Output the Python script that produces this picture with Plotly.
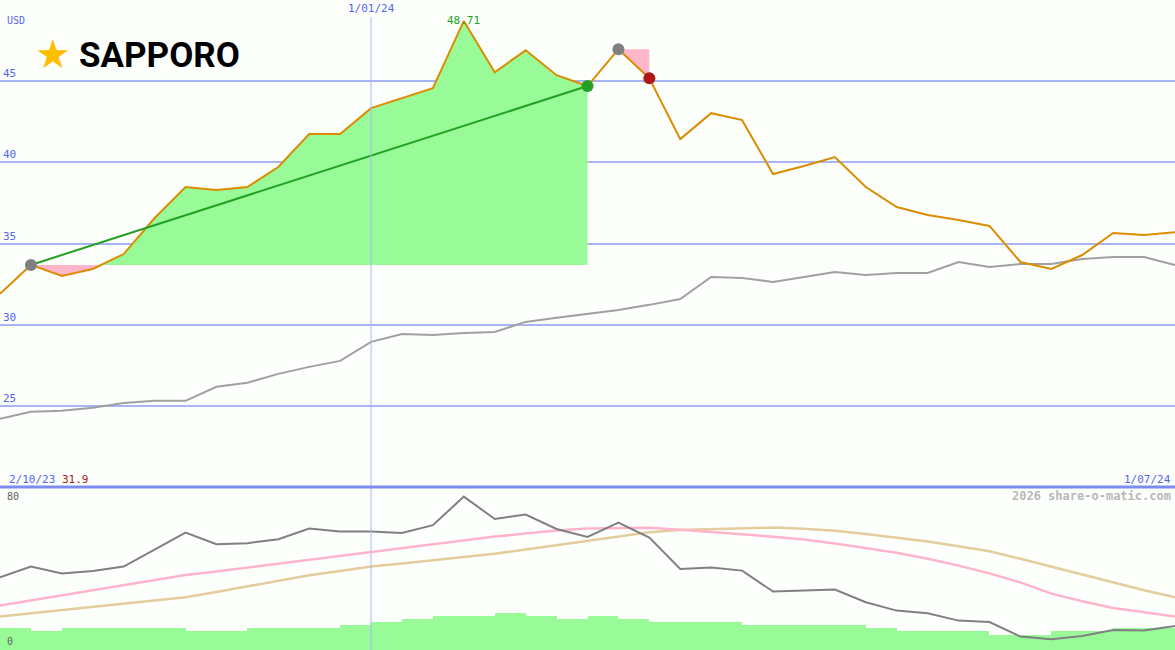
import plotly.graph_objects as go

W, H = 1175, 650

# ---------------- data ----------------
idx = list(range(39))
price = [31.9, 33.68, 33.0, 33.43, 34.35, 36.57, 38.48, 38.29, 38.48, 39.71,
         41.74, 41.74, 43.34, 43.95, 44.57, 48.71, 45.55, 46.9, 45.37, 44.7,
         46.97, 45.18, 41.43, 43.03, 42.6, 39.28, 39.77, 40.32, 38.48, 37.25,
         36.75, 36.45, 36.08, 33.86, 33.43, 34.29, 35.65, 35.52, 35.7]
bench = [24.2, 24.63, 24.69, 24.88, 25.18, 25.31, 25.31, 26.17, 26.42, 26.97,
         27.4, 27.77, 28.94, 29.43, 29.37, 29.49, 29.55, 30.17, 30.42, 30.66,
         30.91, 31.22, 31.58, 32.94, 32.88, 32.63, 32.94, 33.25, 33.06, 33.18,
         33.18, 33.86, 33.55, 33.74, 33.74, 34.05, 34.17, 34.17, 33.68]
osc = [36.4, 41.7, 38.2, 39.5, 41.7, 50.2, 58.7, 52.9, 53.4, 55.4,
       60.7, 59.2, 59.2, 58.5, 62.4, 76.7, 65.5, 67.7, 60.5, 56.5,
       63.7, 56.2, 40.5, 41.2, 39.7, 29.2, 29.7, 30.2, 23.9, 19.7,
       18.4, 14.7, 14.0, 6.7, 5.4, 7.0, 10.0, 9.7, 12.0]
ma_fast = [22.2, 24.7, 27.3, 29.8, 32.4, 35.0, 37.5, 39.3, 41.2, 43.1,
           45.0, 46.9, 48.8, 50.8, 52.7, 54.7, 56.7, 58.2, 59.8, 60.8,
           61.0, 61.1, 60.1, 59.1, 57.9, 56.6, 55.3, 53.2, 51.0, 48.6,
           45.6, 42.2, 38.3, 33.8, 28.2, 24.4, 21.0, 18.7, 16.7]
ma_slow = [16.7, 18.3, 19.9, 21.5, 23.1, 24.8, 26.4, 29.0, 31.8, 34.6,
           37.4, 39.5, 41.7, 43.3, 44.9, 46.5, 48.1, 50.3, 52.4, 54.7,
           56.7, 58.9, 60.0, 60.4, 60.8, 61.2, 60.6, 59.6, 58.0, 56.2,
           54.2, 51.9, 49.4, 45.6, 41.6, 37.6, 33.6, 29.9, 26.4]
volume = [11, 9.5, 11, 11, 11, 11, 9.5, 9.5, 11, 11,
          11, 12.5, 14, 15.5, 17, 17, 18.5, 17, 15.5, 17,
          15.5, 14, 14, 14, 12.5, 12.5, 12.5, 12.5, 11, 9.5,
          9.5, 9.5, 7.5, 7.5, 9.5, 9.5, 11, 11]
trades = [(1, 19, "win"), (20, 21, "loss")]  # (entry index, exit index)
marker_idx = [1, 19, 20, 21]
marker_col = ["#808080", "#22a022", "#808080", "#b01818"]
grid_vals = [25, 30, 35, 40, 45]
start_label, start_price = "2/10/23", "31.9"
mid_label, mid_idx = "1/01/24", 12
end_label = "1/07/24"
max_label = "48.71"

GREEN_FILL = "#98fb98"
PINK_FILL = "#ffb6c8"


def split_fill(i0, i1, base):
    xs, ys = [], []
    for i in range(i0, i1 + 1):
        if i > i0:
            a, b = price[i - 1] - base, price[i] - base
            if a * b < 0:
                t = a / (a - b)
                xs.append(i - 1 + t)
                ys.append(base)
        xs.append(i)
        ys.append(price[i])
    return xs, ys


fig = go.Figure()

# trade fills
for (e, x_, kind) in trades:
    base = price[e]
    xs, ys = split_fill(e, x_, base)
    above = [max(v, base) for v in ys]
    below = [min(v, base) for v in ys]
    fig.add_trace(go.Scatter(x=xs + xs[::-1], y=above + [base] * len(xs),
                             fill="toself", fillcolor=GREEN_FILL, mode="none",
                             hoverinfo="skip", showlegend=False, xaxis="x", yaxis="y"))
    fig.add_trace(go.Scatter(x=xs + xs[::-1], y=below + [base] * len(xs),
                             fill="toself", fillcolor=PINK_FILL, mode="none",
                             hoverinfo="skip", showlegend=False, xaxis="x", yaxis="y"))

# benchmark and price
fig.add_trace(go.Scatter(x=idx, y=bench, mode="lines", line=dict(color="#a0a0a0", width=2),
                         showlegend=False, xaxis="x", yaxis="y"))
fig.add_trace(go.Scatter(x=idx, y=price, mode="lines", line=dict(color="#dc8c00", width=2),
                         showlegend=False, xaxis="x", yaxis="y"))
# trade line for winning trade
e, x_, _ = trades[0]
fig.add_trace(go.Scatter(x=[e, x_], y=[price[e], price[x_]], mode="lines",
                         line=dict(color="#22a022", width=2),
                         showlegend=False, xaxis="x", yaxis="y"))
# markers
fig.add_trace(go.Scatter(x=marker_idx, y=[price[i] for i in marker_idx], mode="markers",
                         marker=dict(color=marker_col, size=12, line=dict(width=0)),
                         showlegend=False, xaxis="x", yaxis="y"))

# bottom panel
fig.add_trace(go.Bar(x=[i + 0.5 for i in range(len(volume))], y=volume, width=1.0,
                     marker=dict(color=GREEN_FILL, line=dict(width=0)),
                     showlegend=False, xaxis="x2", yaxis="y2"))
fig.add_trace(go.Scatter(x=idx, y=ma_slow, mode="lines", line=dict(color="#e4cc9c", width=2.5),
                         showlegend=False, xaxis="x2", yaxis="y2"))
fig.add_trace(go.Scatter(x=idx, y=ma_fast, mode="lines", line=dict(color="#ffb4cc", width=2.5),
                         showlegend=False, xaxis="x2", yaxis="y2"))
fig.add_trace(go.Scatter(x=idx, y=osc, mode="lines", line=dict(color="#808080", width=2),
                         showlegend=False, xaxis="x2", yaxis="y2"))

TOP0 = (H - 487) / H
BOT1 = (H - 488) / H


def px(x):
    return x / W


def py(y):
    return 1 - y / H


MONO = "DejaVu Sans Mono"
BLUE = "#5565f0"

fig.update_layout(
    width=W, height=H, margin=dict(l=0, r=0, t=0, b=0),
    paper_bgcolor="#fcfffc", plot_bgcolor="#fcfffc",
    bargap=0,
    xaxis=dict(domain=[0, 1], range=[0, 38], visible=False, anchor="y"),
    yaxis=dict(domain=[TOP0, 1], range=[20, 50], tickvals=grid_vals,
               showgrid=True, gridcolor="#a8b4f4", gridwidth=2, zeroline=False,
               showline=False, ticks="", ticklabelposition="inside top",
               tickfont=dict(family=MONO, size=11, color=BLUE), anchor="x"),
    xaxis2=dict(domain=[0, 1], range=[0, 38], visible=False, anchor="y2"),
    yaxis2=dict(domain=[0, BOT1], range=[0, 81], visible=False, anchor="x2"),
    shapes=[
        dict(type="line", xref="x", yref="paper", x0=mid_idx, x1=mid_idx,
             y0=0, y1=py(17), line=dict(color="#a8b8f8", width=1)),
        dict(type="line", xref="paper", yref="paper", x0=0, x1=1,
             y0=py(487), y1=py(487), line=dict(color="#7c8cf0", width=3)),
    ],
    annotations=[
        dict(x=px(5), y=py(20), xref="paper", yref="paper", text="USD", showarrow=False,
             xanchor="left", yanchor="middle", font=dict(family=MONO, size=10, color=BLUE)),
        dict(x=mid_idx, y=py(9), xref="x", yref="paper", text=mid_label, showarrow=False,
             xanchor="center", yanchor="middle", font=dict(family=MONO, size=11, color=BLUE)),
        dict(x=15, y=py(21), xref="x", yref="paper", text=max_label, showarrow=False,
             xanchor="center", yanchor="middle", font=dict(family=MONO, size=11, color="#22a022")),
        dict(x=px(7), y=py(479), xref="paper", yref="paper",
             text=f"{start_label} <span style='color:#b01818'>{start_price}</span>",
             showarrow=False, xanchor="left", yanchor="middle",
             font=dict(family=MONO, size=11, color=BLUE)),
        dict(x=px(1173), y=py(479), xref="paper", yref="paper", text=end_label, showarrow=False,
             xanchor="right", yanchor="middle", font=dict(family=MONO, size=11, color=BLUE)),
        dict(x=px(5), y=py(496), xref="paper", yref="paper", text="80", showarrow=False,
             xanchor="left", yanchor="middle", font=dict(family=MONO, size=10, color="#606060")),
        dict(x=px(5), y=py(641), xref="paper", yref="paper", text="0", showarrow=False,
             xanchor="left", yanchor="middle", font=dict(family=MONO, size=10, color="#606060")),
        dict(x=px(1173), y=py(496), xref="paper", yref="paper", text="<b>2026 share-o-matic.com</b>",
             showarrow=False, xanchor="right", yanchor="middle",
             font=dict(family=MONO, size=12, color="#b8b8b8")),
        dict(x=px(33), y=py(54), xref="paper", yref="paper", text="★", showarrow=False,
             xanchor="left", yanchor="middle", font=dict(family="DejaVu Sans", size=40, color="#ffbf00")),
        dict(x=px(77), y=py(55), xref="paper", yref="paper", text="<b>SAPPORO</b>", showarrow=False,
             xanchor="left", yanchor="middle",
             font=dict(family="Roboto", size=35, color="#000000")),
    ],
)

fig.write_html("out.html", config={"displayModeBar": False},
               post_script="document.body.style.margin='0px';document.body.style.overflow='hidden';")
